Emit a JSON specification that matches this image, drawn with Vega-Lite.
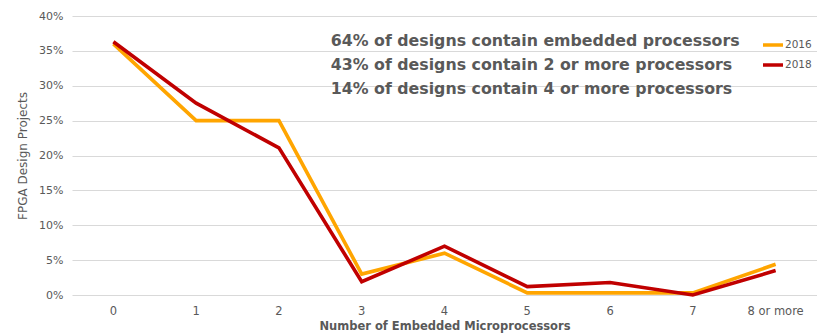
{
  "$schema": "https://vega.github.io/schema/vega-lite/v6.json",
  "width": 745,
  "height": 279,
  "autosize": {"type": "none"},
  "padding": {"left": 72, "top": 16, "right": 0, "bottom": 41},
  "background": "white",
  "config": {
    "view": {"stroke": null},
    "font": "DejaVu Sans",
    "axis": {"labelColor": "#595959", "titleColor": "#595959", "labelFont": "DejaVu Sans", "titleFont": "DejaVu Sans"}
  },
  "encoding": {
    "y": {
      "field": "pct", "type": "quantitative",
      "scale": {"domain": [0, 0.4], "nice": false},
      "axis": {
        "title": "FPGA Design Projects", "format": ".0%", "values": [0, 0.05, 0.1, 0.15, 0.2, 0.25, 0.3, 0.35, 0.4],
        "labelOverlap": false, "labelFontSize": 11, "labelPadding": 9, "domain": false, "ticks": false,
        "gridColor": "#d9d9d9", "titleFontSize": 12, "titleFontWeight": "normal", "titlePadding": 9
      }
    }
  },
  "layer": [
    {
      "data": {"values": [
        {"n": "0", "year": "2016", "pct": 0.36},
        {"n": "1", "year": "2016", "pct": 0.25},
        {"n": "2", "year": "2016", "pct": 0.25},
        {"n": "3", "year": "2016", "pct": 0.03},
        {"n": "4", "year": "2016", "pct": 0.06},
        {"n": "5", "year": "2016", "pct": 0.003},
        {"n": "6", "year": "2016", "pct": 0.003},
        {"n": "7", "year": "2016", "pct": 0.003},
        {"n": "8 or more", "year": "2016", "pct": 0.044},
        {"n": "0", "year": "2018", "pct": 0.363},
        {"n": "1", "year": "2018", "pct": 0.275},
        {"n": "2", "year": "2018", "pct": 0.211},
        {"n": "3", "year": "2018", "pct": 0.019},
        {"n": "4", "year": "2018", "pct": 0.07},
        {"n": "5", "year": "2018", "pct": 0.012},
        {"n": "6", "year": "2018", "pct": 0.018},
        {"n": "7", "year": "2018", "pct": 0.0},
        {"n": "8 or more", "year": "2018", "pct": 0.035}
      ]},
      "mark": {"type": "line", "strokeWidth": 3.6},
      "encoding": {
        "x": {
          "field": "n", "type": "ordinal", "sort": null,
          "scale": {"paddingInner": 0, "paddingOuter": 0},
          "axis": {
            "title": "Number of Embedded Microprocessors",
            "labelAngle": 0, "labelFontSize": 11.5, "labelPadding": 10,
            "domain": false, "ticks": false,
            "titleFontSize": 11.5, "titleFontWeight": "bold", "titlePadding": 4
          }
        },
        "color": {
          "field": "year", "type": "nominal",
          "scale": {"domain": ["2016", "2018"], "range": ["#FFA500", "#C00000"]},
          "legend": {
            "title": null, "orient": "none", "legendX": 689, "legendY": 17,
            "symbolType": "stroke", "symbolStrokeWidth": 3.5, "symbolSize": 400,
            "labelFontSize": 10.5, "labelColor": "#595959", "rowPadding": 1, "labelOffset": 0
          }
        }
      }
    },
    {
      "data": {"values": [{}]},
      "mark": {"type": "rect", "color": "white"},
      "encoding": {
        "x": {"datum": "3", "type": "ordinal", "bandPosition": 0.08},
        "x2": {"datum": "8 or more", "bandPosition": 0.15},
        "y": {"datum": 0.376, "type": "quantitative"},
        "y2": {"datum": 0.276}
      }
    },
    {
      "data": {"values": [
        {"line": "64% of designs contain embedded processors", "pct": 0.364},
        {"line": "43% of designs contain 2 or more processors", "pct": 0.33},
        {"line": "14% of designs contain 4 or more processors", "pct": 0.295}
      ]},
      "mark": {"type": "text", "align": "left", "baseline": "middle", "fontSize": 15.8, "fontWeight": "bold", "color": "#595959", "dx": -31, "font": "DejaVu Sans"},
      "encoding": {
        "x": {"datum": "3", "type": "ordinal"},
        "text": {"field": "line"}
      }
    }
  ]
}
